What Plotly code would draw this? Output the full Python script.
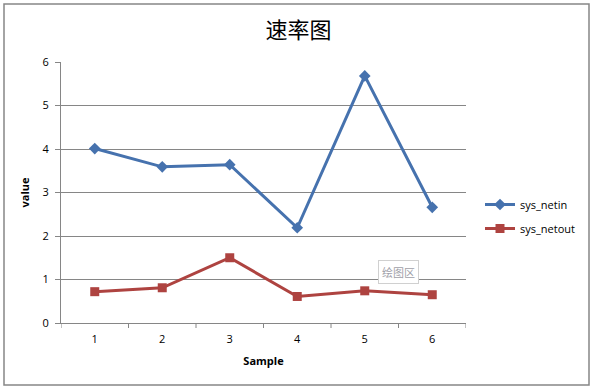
import plotly.graph_objects as go

samples = [1, 2, 3, 4, 5, 6]
sys_netin = [4.01, 3.59, 3.64, 2.19, 5.68, 2.66]
sys_netout = [0.72, 0.81, 1.50, 0.61, 0.74, 0.65]
y_ticks = [0, 1, 2, 3, 4, 5, 6]

W, H = 597, 392
L, R, T, B = 61, 131, 62, 69
pw, ph = W - L - R, H - T - B

def px(x):
    return (x - L) / pw

def py(y):
    return (H - B - y) / ph

fig = go.Figure()
fig.add_trace(go.Scatter(
    x=samples, y=sys_netin, name="sys_netin", mode="lines+markers",
    legendgroup="a",
    line=dict(color="#4672AE", width=3),
    marker=dict(symbol="diamond", size=9, color="#4672AE"),
))
fig.add_trace(go.Scatter(
    x=samples, y=sys_netout, name="sys_netout", mode="lines+markers",
    legendgroup="b",
    line=dict(color="#AE4340", width=3),
    marker=dict(symbol="square", size=9, color="#AE4340"),
))

font_fam = "Open Sans, Noto Sans, sans-serif"

fig.update_layout(
    width=W, height=H,
    margin=dict(l=L, r=R, t=T, b=B),
    paper_bgcolor="white", plot_bgcolor="white",
    showlegend=True,
    font=dict(family=font_fam, size=11, color="#000000"),
    title=dict(text="速率图", x=0.5, xref="container", xanchor="center",
               y=1 - 30 / H, yanchor="middle",
               font=dict(family="Noto Sans CJK SC", size=22, color="#000000")),
    legend=dict(x=px(480), y=py(190), xanchor="left", yanchor="top",
                font=dict(size=11, color="#000000"), tracegroupgap=5,
                bgcolor="rgba(0,0,0,0)", itemwidth=30),
    xaxis=dict(
        range=[0.5, 6.5], tickmode="array", tickvals=samples,
        ticktext=[str(s) for s in samples],
        showgrid=False, zeroline=False,
        showline=True, linecolor="#868686", linewidth=1,
        ticks="", tickfont=dict(size=11), ticklabelstandoff=6,
        title=dict(text="<b>Sample</b>", font=dict(size=11), standoff=12),
        fixedrange=True,
    ),
    yaxis=dict(
        range=[0, 6], tickmode="array", tickvals=y_ticks,
        showgrid=True, gridcolor="#868686", gridwidth=1,
        zeroline=False, showline=True, linecolor="#868686", linewidth=1,
        ticks="outside", ticklen=5, tickcolor="#868686",
        tickfont=dict(size=11), ticklabelstandoff=4,
        title=dict(text="<b>value</b>", font=dict(size=11), standoff=10),
        fixedrange=True,
    ),
)

# x-axis tick marks between categories
shapes = []
for i in range(7):
    xb = 0.5 + i
    shapes.append(dict(type="line", xref="x", yref="paper", x0=xb, x1=xb,
                       y0=0, y1=-5 / ph, line=dict(color="#868686", width=1)))
# outer chart border
shapes.append(dict(type="rect", xref="paper", yref="paper",
                   x0=px(4), x1=px(589), y0=py(4), y1=py(385),
                   line=dict(color="#868686", width=1.5), layer="below"))
fig.update_layout(shapes=shapes)

# tooltip-like label
fig.add_annotation(x=px(398), y=py(272), xref="paper", yref="paper",
                   xanchor="center", yanchor="middle",
                   text="绘图区", showarrow=False,
                   font=dict(family="Noto Sans CJK SC", size=11, color="#A0A0A8"),
                   bgcolor="white", bordercolor="#D0D0D0", borderwidth=1, borderpad=3)

fig.write_html("out.html", config={"displayModeBar": False},
               post_script="document.body.style.margin='0';")
